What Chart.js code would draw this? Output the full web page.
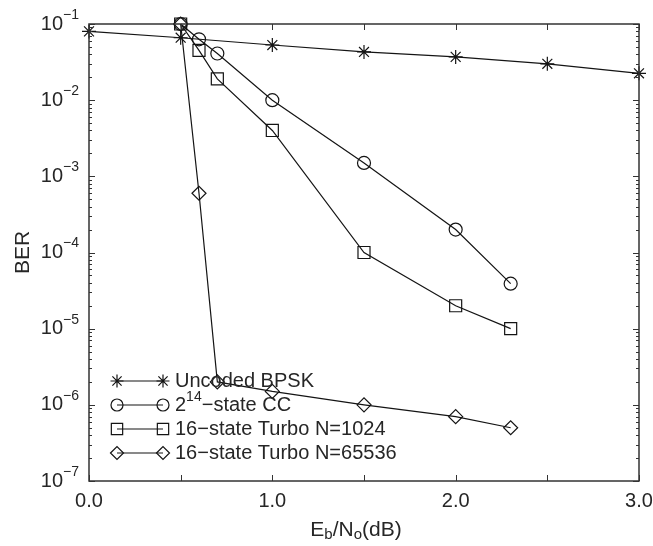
<!DOCTYPE html>
<html>
<head>
<meta charset="utf-8">
<script src="https://cdn.jsdelivr.net/npm/chart.js@4"></script>
<style>
  html, body { margin: 0; padding: 0; background: #fff; }
</style>
</head>
<body>
<canvas id="ber-chart" width="653" height="546"></canvas>
<script>
// data
const ebnoUncoded = [0, 0.5, 1.0, 1.5, 2.0, 2.5, 3.0];
const berUncoded = [0.08, 0.066, 0.053, 0.043, 0.037, 0.030, 0.0225];
const ebnoCoded = [0.5, 0.6, 0.7, 1.0, 1.5, 2.0, 2.3];
const berCC = [0.1, 0.063, 0.041, 0.01, 0.0015, 0.0002, 0.000039];
const berTurbo1024 = [0.1, 0.045, 0.019, 0.004, 0.0001, 0.00002, 0.00001];
const berTurbo65536 = [0.1, 0.0006, 0.000002, 0.0000015, 0.000001, 0.0000007, 0.0000005];

const xTickValues = [0, 0.5, 1.0, 1.5, 2.0, 2.5, 3.0];
const xTickLabels = ['0.0', '', '1.0', '', '2.0', '', '3.0'];
const yTickExps = [-1, -2, -3, -4, -5, -6, -7];

const FONT = "'Liberation Sans', Arial, sans-serif";
const INK = '#141414';

function pts(xs, ys) {
    return xs.map((x, i) => ({ x: x, y: ys[i] }));
}

function series(label, xs, ys, style, radius) {
    return {
        label: label,
        data: pts(xs, ys),
        borderColor: INK,
        borderWidth: 1.2,
        pointStyle: style,
        pointRadius: radius,
        pointBorderColor: INK,
        pointBorderWidth: 1.2,
        pointBackgroundColor: 'rgba(0,0,0,0)',
        tension: 0,
        clip: false
    };
}

// axes box, inward ticks, tick labels, titles and the legend
const decor = {
    id: 'decor',
    afterDraw(chart) {
        const ctx = chart.ctx;
        const a = chart.chartArea;
        const xs = chart.scales.x;
        const ys = chart.scales.y;
        ctx.save();
        ctx.strokeStyle = '#333';
        ctx.lineWidth = 1.5;
        ctx.strokeRect(a.left, a.top, a.right - a.left, a.bottom - a.top);

        ctx.lineWidth = 1;
        ctx.beginPath();
        xTickValues.forEach(v => {
            const px = Math.round(xs.getPixelForValue(v)) + 0.5;
            ctx.moveTo(px, a.bottom); ctx.lineTo(px, a.bottom - 6);
            ctx.moveTo(px, a.top); ctx.lineTo(px, a.top + 6);
        });
        for (let e = -7; e <= -1; e++) {
            const py = Math.round(ys.getPixelForValue(Math.pow(10, e))) + 0.5;
            ctx.moveTo(a.left, py); ctx.lineTo(a.left + 6, py);
            ctx.moveTo(a.right, py); ctx.lineTo(a.right - 6, py);
            if (e < -1) {
                for (let k = 2; k <= 9; k++) {
                    const pm = Math.round(ys.getPixelForValue(k * Math.pow(10, e))) + 0.5;
                    ctx.moveTo(a.left, pm); ctx.lineTo(a.left + 3, pm);
                    ctx.moveTo(a.right, pm); ctx.lineTo(a.right - 3, pm);
                }
            }
        }
        ctx.stroke();

        ctx.fillStyle = '#262626';
        ctx.textBaseline = 'middle';
        // x tick labels
        ctx.font = '20px ' + FONT;
        ctx.textAlign = 'center';
        xTickValues.forEach((v, i) => {
            if (xTickLabels[i]) ctx.fillText(xTickLabels[i], xs.getPixelForValue(v), a.bottom + 20);
        });
        // y tick labels 10^e
        yTickExps.forEach(e => {
            const py = ys.getPixelForValue(Math.pow(10, e));
            ctx.font = '20px ' + FONT;
            ctx.textAlign = 'right';
            ctx.fillText('10', 63, py);
            ctx.font = '14px ' + FONT;
            ctx.textAlign = 'left';
            ctx.fillText('\u2212' + Math.abs(e), 63, py - 9);
        });

        // y title
        ctx.save();
        ctx.translate(23, (a.top + a.bottom) / 2);
        ctx.rotate(-Math.PI / 2);
        ctx.font = '21px ' + FONT;
        ctx.textAlign = 'center';
        ctx.fillText('BER', 0, 0);
        ctx.restore();

        // x title E_b/N_o(dB)
        const parts = [['E', 21, 0], ['b', 15, 5], ['/N', 21, 0], ['o', 15, 5], ['(dB)', 21, 0]];
        let total = 0;
        parts.forEach(p => { ctx.font = p[1] + 'px ' + FONT; total += ctx.measureText(p[0]).width; });
        let tx = 356 - total / 2;
        ctx.textAlign = 'left';
        parts.forEach(p => {
            ctx.font = p[1] + 'px ' + FONT;
            ctx.fillText(p[0], tx, 530 + p[2]);
            tx += ctx.measureText(p[0]).width;
        });

        // legend
        const rows = [381, 405, 429, 453];
        chart.data.datasets.forEach((ds, i) => {
            const y = rows[i];
            ctx.strokeStyle = INK;
            ctx.lineWidth = 1.2;
            ctx.beginPath();
            ctx.moveTo(117, y); ctx.lineTo(163, y);
            ctx.stroke();
            ctx.fillStyle = 'rgba(0,0,0,0)';
            [117, 163].forEach(mx => {
                Chart.helpers.drawPoint(ctx, {
                    pointStyle: ds.pointStyle, radius: ds.pointRadius - 0.5,
                    rotation: 0, borderWidth: 1.2
                }, mx, y);
            });
            ctx.fillStyle = '#262626';
            ctx.font = '20px ' + FONT;
            ctx.textAlign = 'left';
            if (i === 1) {
                ctx.fillText('2', 175, y);
                let w = ctx.measureText('2').width;
                ctx.font = '14px ' + FONT;
                ctx.fillText('14', 175 + w, y - 8);
                w += ctx.measureText('14').width;
                ctx.font = '20px ' + FONT;
                ctx.fillText('\u2212state CC', 175 + w, y);
            } else {
                ctx.fillText(ds.label, 175, y);
            }
        });
        ctx.restore();
    }
};

new Chart(document.getElementById('ber-chart'), {
    type: 'line',
    data: {
        datasets: [
            series('Uncoded BPSK', ebnoUncoded, berUncoded, 'star', 7),
            series('2^14-state CC', ebnoCoded, berCC, 'circle', 6.5),
            series('16\u2212state Turbo N=1024', ebnoCoded, berTurbo1024, 'rect', 8.5),
            series('16\u2212state Turbo N=65536', ebnoCoded, berTurbo65536, 'rectRot', 7)
        ]
    },
    options: {
        responsive: false,
        animation: false,
        layout: { padding: { top: 24, right: 14, left: 0, bottom: 0 } },
        plugins: { legend: { display: false }, tooltip: { enabled: false } },
        scales: {
            x: {
                type: 'linear', min: 0, max: 3,
                grid: { display: false }, border: { display: false },
                ticks: { display: false },
                afterFit(scale) { scale.height = 65; }
            },
            y: {
                type: 'logarithmic', min: 1e-7, max: 1e-1,
                grid: { display: false }, border: { display: false },
                ticks: { display: false },
                afterFit(scale) { scale.width = 89; }
            }
        }
    },
    plugins: [decor]
});
</script>
</body>
</html>
